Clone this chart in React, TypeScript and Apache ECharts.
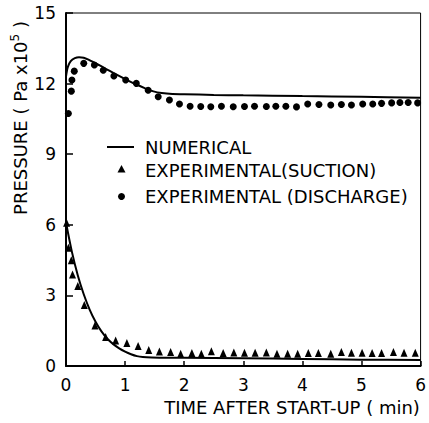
import React, { useEffect, useRef } from "react";
import * as echarts from "echarts";

const xTicks = [0, 1, 2, 3, 4, 5, 6];
const yTicks = [0, 3, 6, 9, 12, 15];

const numDischargeTime = [0, 0.03, 0.08, 0.15, 0.22, 0.3, 0.38, 0.47, 0.57, 0.68, 0.8, 0.93, 1.06, 1.2, 1.34, 1.48, 1.62, 1.8, 2.0, 2.5, 3, 4, 5, 6];
const numDischargeP = [12.3, 12.7, 12.95, 13.08, 13.12, 13.1, 13.02, 12.9, 12.77, 12.62, 12.46, 12.29, 12.12, 11.95, 11.8, 11.67, 11.6, 11.56, 11.55, 11.52, 11.5, 11.47, 11.44, 11.4];

const numSuctionTime = [0, 0.1, 0.2, 0.3, 0.4, 0.5, 0.6, 0.7, 0.8, 0.9, 1.0, 1.1, 1.2, 1.3, 1.45, 1.7, 2, 3, 4, 5, 6];
const numSuctionP = [6.1, 4.85, 3.85, 3.05, 2.4, 1.88, 1.47, 1.16, 0.93, 0.75, 0.61, 0.5, 0.42, 0.38, 0.36, 0.35, 0.35, 0.33, 0.3, 0.27, 0.25];

const expDischargeTime = [0.04, 0.09, 0.1, 0.14, 0.3, 0.48, 0.63, 0.81, 1.01, 1.19, 1.39, 1.56, 1.75, 1.92, 2.1, 2.28, 2.45, 2.63, 2.83, 3.02, 3.19, 3.39, 3.55, 3.72, 3.9, 4.09, 4.28, 4.48, 4.66, 4.83, 5.02, 5.19, 5.34, 5.51, 5.65, 5.79, 5.95];
const expDischargeP = [10.73, 11.68, 12.15, 12.53, 12.86, 12.79, 12.57, 12.32, 12.15, 12.01, 11.72, 11.44, 11.3, 11.13, 11.04, 11.03, 11.02, 11.04, 11.02, 11.03, 11.04, 11.03, 11.04, 11.04, 11.01, 11.13, 11.11, 11.09, 11.11, 11.09, 11.13, 11.13, 11.16, 11.18, 11.2, 11.2, 11.18];

const expSuctionTime = [0.01, 0.04, 0.09, 0.11, 0.2, 0.31, 0.49, 0.67, 0.84, 1.03, 1.22, 1.4, 1.58, 1.77, 1.94, 2.13, 2.29, 2.46, 2.66, 2.84, 3.02, 3.2, 3.39, 3.57, 3.75, 3.92, 4.1, 4.27, 4.48, 4.66, 4.83, 5.01, 5.18, 5.34, 5.54, 5.72, 5.91];
const expSuctionP = [6.09, 5.03, 4.49, 3.89, 3.4, 2.59, 1.72, 1.23, 1.08, 0.98, 0.85, 0.68, 0.62, 0.6, 0.52, 0.55, 0.52, 0.63, 0.55, 0.57, 0.56, 0.56, 0.57, 0.52, 0.52, 0.52, 0.55, 0.55, 0.52, 0.59, 0.56, 0.56, 0.55, 0.55, 0.59, 0.56, 0.56];

const legendLabels = ["NUMERICAL", "EXPERIMENTAL(SUCTION)", "EXPERIMENTAL (DISCHARGE)"];
const xAxisTitle = "TIME AFTER START-UP ( min)";
const yAxisTitleMain = "PRESSURE ( Pa x10";
const yAxisTitleSup = "5";

const zip = (a: number[], b: number[]) => a.map((v, i) => [v, b[i]]);

const FONT = "DejaVu Sans";

export default function App() {
  const ref = useRef<HTMLDivElement>(null);
  useEffect(() => {
    if (!ref.current) return;
    const chart = echarts.init(ref.current, null, { renderer: "svg" });
    const txt = { color: "#000", fontFamily: FONT, fontSize: 17 };
    chart.setOption({
      animation: false,
      backgroundColor: "#fff",
      grid: { left: 66, top: 13, right: 5, bottom: 57, show: true, borderColor: "#000", borderWidth: 1 },
      xAxis: {
        type: "value",
        min: xTicks[0],
        max: xTicks[xTicks.length - 1],
        interval: 1,
        axisLine: { show: true, lineStyle: { color: "#000", width: 2 } },
        axisTick: { show: true, inside: true, length: 5, lineStyle: { color: "#000", width: 1.5 } },
        axisLabel: { ...txt, margin: 10 },
        splitLine: { show: false },
      },
      yAxis: {
        type: "value",
        min: yTicks[0],
        max: yTicks[yTicks.length - 1],
        interval: 3,
        axisLine: { show: true, lineStyle: { color: "#000", width: 2 } },
        axisTick: { show: true, inside: true, length: 7, lineStyle: { color: "#000", width: 1.5 } },
        axisLabel: { ...txt, margin: 10 },
        splitLine: { show: false },
      },
      series: [
        {
          name: legendLabels[0], type: "line", data: zip(numDischargeTime, numDischargeP),
          showSymbol: false, smooth: 0.3, lineStyle: { color: "#000", width: 2 },
        },
        {
          name: legendLabels[0], type: "line", data: zip(numSuctionTime, numSuctionP),
          showSymbol: false, smooth: 0.3, lineStyle: { color: "#000", width: 2 },
        },
        {
          name: legendLabels[2], type: "scatter", data: zip(expDischargeTime, expDischargeP),
          symbol: "circle", symbolSize: 7, itemStyle: { color: "#000", opacity: 1 },
        },
        {
          name: legendLabels[1], type: "scatter", data: zip(expSuctionTime, expSuctionP),
          symbol: "triangle", symbolSize: [7, 8], itemStyle: { color: "#000", opacity: 1 },
        },
      ],
      graphic: [
        { type: "line", shape: { x1: 107, y1: 147, x2: 134, y2: 147 }, style: { stroke: "#000", lineWidth: 2 } },
        { type: "polygon", shape: { points: [[121.5, 165], [125.5, 172.5], [117.5, 172.5]] }, style: { fill: "#000" } },
        { type: "circle", shape: { cx: 121.5, cy: 196.5, r: 3.5 }, style: { fill: "#000" } },
        { type: "text", x: 145, y: 147, style: { text: legendLabels[0], fill: "#000", font: `18px '${FONT}'`, textVerticalAlign: "middle", textAlign: "left" } },
        { type: "text", x: 145, y: 170, style: { text: legendLabels[1], fill: "#000", font: `18px '${FONT}'`, textVerticalAlign: "middle", textAlign: "left" } },
        { type: "text", x: 145, y: 196, style: { text: legendLabels[2], fill: "#000", font: `18px '${FONT}'`, textVerticalAlign: "middle", textAlign: "left" } },
        { type: "text", x: 292, y: 407, style: { text: xAxisTitle, fill: "#000", font: `18px '${FONT}'`, textVerticalAlign: "middle", textAlign: "center" } },
        {
          type: "text", x: 20, y: 118, rotation: Math.PI / 2,
          style: {
            text: `{a|${yAxisTitleMain}}{s|${yAxisTitleSup}}{a| )}`,
            fill: "#000", textVerticalAlign: "middle", textAlign: "center",
            rich: {
              a: { fontFamily: FONT, fontSize: 18, color: "#000", lineHeight: 22 },
              s: { fontFamily: FONT, fontSize: 12, color: "#000", verticalAlign: "top", lineHeight: 22 },
            },
          },
        },
      ],
    });
    return () => chart.dispose();
  }, []);
  return <div ref={ref} style={{ position: "fixed", left: 0, top: 0, width: 429, height: 423, background: "#fff" }} />;
}
